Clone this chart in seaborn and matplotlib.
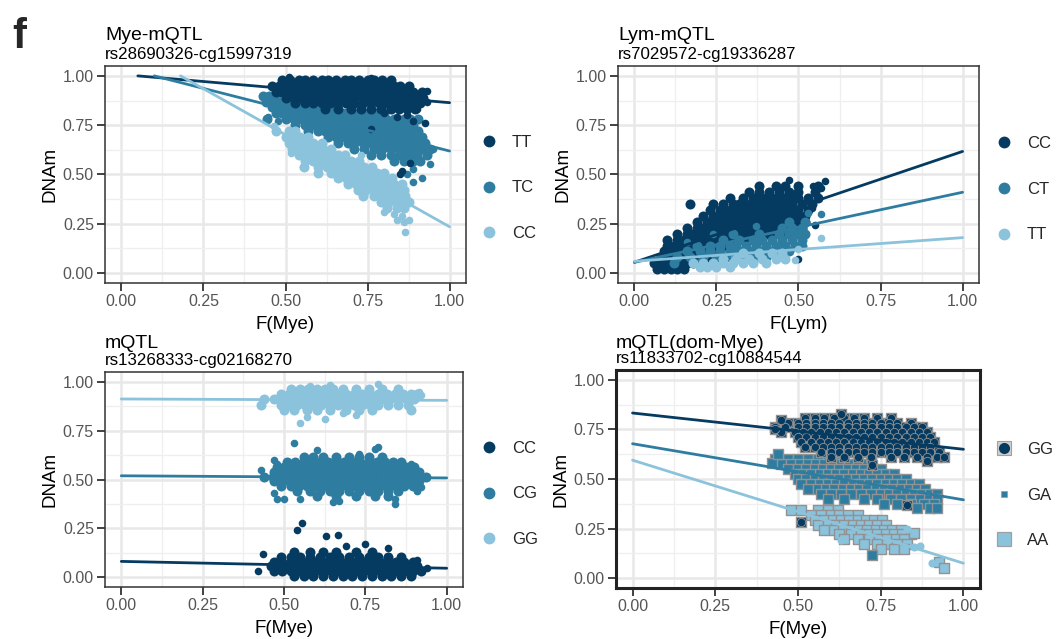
import matplotlib
matplotlib.use("Agg")
import matplotlib.pyplot as plt
from matplotlib.lines import Line2D
import seaborn as sns
import numpy as np

# ---------------- colours ----------------
DARK, MID, LIGHT = "#063b61", "#2e7da1", "#8bc3dc"
GRAYEDGE = "#929292"

# ---------------- panel texts ----------------
TITLES = ["Mye-mQTL", "Lym-mQTL", "mQTL", "mQTL(dom-Mye)"]
SUBTITLES = ["rs28690326-cg15997319", "rs7029572-cg19336287",
             "rs13268333-cg02168270", "rs11833702-cg10884544"]
XLABELS = ["F(Mye)", "F(Lym)", "F(Mye)", "F(Mye)"]
YLABEL = "DNAm"
TICKS = [0.0, 0.25, 0.5, 0.75, 1.0]
TICKLABELS = ["0.00", "0.25", "0.50", "0.75", "1.00"]

# genotype labels per panel (legend order: dark, mid, light)
P1_GENO = ["TT", "TC", "CC"]
P2_GENO = ["CC", "CT", "TT"]
P3_GENO = ["CC", "CG", "GG"]
P4_GENO = ["GG", "GA", "AA"]

# regression lines: start x, start y, end y (end x = 1.0), order dark, mid, light
P1_LINE_X0 = [0.05, 0.10, 0.18]
P1_LINE_Y0 = [1.00, 1.00, 1.00]
P1_LINE_Y1 = [0.864, 0.619, 0.235]
P2_LINE_X0 = [0.0, 0.0, 0.0]
P2_LINE_Y0 = [0.055, 0.055, 0.06]
P2_LINE_Y1 = [0.617, 0.41, 0.18]
P3_LINE_X0 = [0.0, 0.0, 0.0]
P3_LINE_Y0 = [0.081, 0.519, 0.912]
P3_LINE_Y1 = [0.046, 0.508, 0.905]
P4_LINE_X0 = [0.0, 0.0, 0.0]
P4_LINE_Y0 = [0.833, 0.678, 0.595]
P4_LINE_Y1 = [0.65, 0.395, 0.075]

# ---------------- point clouds ----------------
# each row: (DNAm value, [F values]) ; extras: (F, DNAm)
P1_TT_ROWS = [
    (0.980, [0.49, 0.515, 0.54, 0.56, 0.585, 0.61, 0.63, 0.655, 0.68, 0.70, 0.725, 0.75, 0.77, 0.795, 0.82]),
    (0.950, [0.46, 0.48, 0.50, 0.525, 0.55, 0.57, 0.595, 0.62, 0.64, 0.665, 0.69, 0.71, 0.735, 0.76, 0.78, 0.805, 0.83, 0.85, 0.875]),
    (0.920, [0.47, 0.49, 0.515, 0.54, 0.56, 0.585, 0.61, 0.63, 0.655, 0.68, 0.70, 0.725, 0.75, 0.77, 0.795, 0.82, 0.84, 0.865, 0.89, 0.915]),
    (0.890, [0.50, 0.525, 0.55, 0.57, 0.595, 0.62, 0.64, 0.665, 0.69, 0.71, 0.735, 0.76, 0.78, 0.805, 0.83, 0.85, 0.875, 0.90, 0.92]),
    (0.860, [0.53, 0.56, 0.585, 0.61, 0.635, 0.66, 0.685, 0.71, 0.735, 0.76, 0.785, 0.81, 0.835, 0.86, 0.885, 0.91]),
    (0.830, [0.62, 0.66, 0.70, 0.73, 0.76, 0.79, 0.82, 0.845, 0.87, 0.895]),
]
P1_TT_EXTRA = [(0.51, 0.995), (0.76, 0.99), (0.93, 0.925), (0.80, 0.81), (0.89, 0.77), (0.925, 0.76),
               (0.76, 0.73), (0.85, 0.50), (0.855, 0.52), (0.88, 0.56), (0.84, 0.79), (0.87, 0.80),
               (0.90, 0.83), (0.93, 0.87)]

P1_TC_ROWS = [
    (0.900, [0.43, 0.45, 0.47]),
    (0.870, [0.44, 0.46, 0.48, 0.50, 0.52, 0.545]),
    (0.840, [0.46, 0.48, 0.50, 0.525, 0.55, 0.575, 0.60, 0.62, 0.645]),
    (0.810, [0.47, 0.49, 0.515, 0.54, 0.56, 0.585, 0.61, 0.63, 0.655, 0.68, 0.70, 0.725, 0.75, 0.78, 0.80]),
    (0.780, [0.445, 0.50, 0.525, 0.55, 0.57, 0.595, 0.62, 0.64, 0.665, 0.69, 0.71, 0.735, 0.76, 0.78, 0.805, 0.83, 0.86, 0.88, 0.905]),
    (0.750, [0.53, 0.56, 0.585, 0.61, 0.63, 0.655, 0.68, 0.70, 0.725, 0.75, 0.77, 0.795, 0.82, 0.845, 0.87, 0.89]),
    (0.720, [0.57, 0.60, 0.62, 0.645, 0.67, 0.69, 0.715, 0.74, 0.76, 0.785, 0.81, 0.835, 0.86, 0.88, 0.905]),
    (0.690, [0.63, 0.655, 0.68, 0.70, 0.725, 0.75, 0.77, 0.795, 0.82, 0.845, 0.87, 0.89, 0.915]),
    (0.660, [0.66, 0.69, 0.71, 0.735, 0.76, 0.78, 0.805, 0.83, 0.855, 0.88, 0.90, 0.925]),
    (0.630, [0.71, 0.74, 0.77, 0.795, 0.82, 0.845, 0.87, 0.895, 0.92, 0.94]),
    (0.600, [0.76, 0.79, 0.82, 0.85, 0.875, 0.90, 0.93]),
    (0.570, [0.83, 0.86, 0.89, 0.91]),
]
P1_TC_EXTRA = [(0.94, 0.555), (0.89, 0.53), (0.915, 0.48), (0.89, 0.46), (0.87, 0.50), (0.63, 0.94),
               (0.72, 0.97), (0.58, 0.925), (0.80, 0.88), (0.447, 0.79), (0.477, 0.77), (0.93, 0.60),
               (0.95, 0.63), (0.91, 0.57)]

P1_CC_ROWS = [
    (0.720, [0.47, 0.51, 0.53]),
    (0.690, [0.50, 0.52, 0.545, 0.57]),
    (0.660, [0.51, 0.535, 0.56, 0.585, 0.61]),
    (0.630, [0.52, 0.545, 0.57, 0.59, 0.615, 0.64]),
    (0.600, [0.54, 0.565, 0.59, 0.61, 0.635, 0.66, 0.68]),
    (0.570, [0.56, 0.585, 0.61, 0.63, 0.655, 0.68, 0.70, 0.725]),
    (0.540, [0.555, 0.60, 0.625, 0.65, 0.67, 0.695, 0.72, 0.74, 0.765]),
    (0.510, [0.60, 0.64, 0.665, 0.69, 0.71, 0.735, 0.76, 0.78, 0.80]),
    (0.480, [0.66, 0.685, 0.71, 0.73, 0.755, 0.78, 0.80, 0.825]),
    (0.450, [0.69, 0.715, 0.74, 0.76, 0.785, 0.81, 0.83, 0.855]),
    (0.420, [0.72, 0.745, 0.77, 0.79, 0.815, 0.84, 0.86]),
    (0.390, [0.735, 0.77, 0.795, 0.82, 0.845, 0.865]),
    (0.360, [0.79, 0.815, 0.84, 0.86, 0.875]),
    (0.330, [0.81, 0.84, 0.86]),
]
P1_CC_EXTRA = [(0.84, 0.27), (0.855, 0.29), (0.86, 0.26), (0.875, 0.27), (0.865, 0.21), (0.80, 0.31),
               (0.465, 0.745), (0.553, 0.54), (0.517, 0.607), (0.73, 0.60), (0.83, 0.30)]

P2_CC_ROWS = [
    (0.020, [0.07, 0.09, 0.11, 0.13, 0.15]),
    (0.050, [0.06, 0.08, 0.10, 0.12, 0.14, 0.16, 0.18]),
    (0.080, [0.08, 0.10, 0.12, 0.14, 0.16, 0.18, 0.20, 0.22]),
    (0.110, [0.09, 0.11, 0.13, 0.15, 0.17, 0.19, 0.21, 0.23, 0.25]),
    (0.140, [0.10, 0.12, 0.14, 0.16, 0.18, 0.20, 0.22, 0.24, 0.26, 0.28]),
    (0.170, [0.10, 0.13, 0.15, 0.17, 0.19, 0.21, 0.23, 0.25, 0.27, 0.29, 0.31, 0.33, 0.35]),
    (0.200, [0.13, 0.16, 0.18, 0.20, 0.22, 0.24, 0.26, 0.28, 0.30, 0.32, 0.34, 0.36, 0.38, 0.40, 0.42, 0.44, 0.46, 0.48]),
    (0.230, [0.16, 0.19, 0.21, 0.23, 0.25, 0.27, 0.29, 0.31, 0.33, 0.35, 0.37, 0.39, 0.41, 0.43, 0.45, 0.47, 0.49, 0.51]),
    (0.260, [0.19, 0.22, 0.24, 0.26, 0.28, 0.30, 0.32, 0.34, 0.36, 0.38, 0.40, 0.42, 0.44, 0.46, 0.48, 0.50, 0.52]),
    (0.290, [0.21, 0.24, 0.26, 0.28, 0.30, 0.32, 0.34, 0.36, 0.38, 0.40, 0.42, 0.44, 0.46, 0.48, 0.50, 0.52]),
    (0.320, [0.23, 0.26, 0.28, 0.30, 0.32, 0.34, 0.36, 0.38, 0.40, 0.42, 0.44, 0.46, 0.48, 0.50, 0.53]),
    (0.350, [0.17, 0.24, 0.27, 0.30, 0.32, 0.34, 0.36, 0.38, 0.40, 0.42, 0.44, 0.46, 0.48, 0.51, 0.54]),
    (0.380, [0.29, 0.33, 0.36, 0.38, 0.40, 0.42, 0.44, 0.46, 0.48, 0.50, 0.53, 0.56]),
    (0.410, [0.35, 0.38, 0.41, 0.44, 0.47, 0.50, 0.55]),
    (0.440, [0.38, 0.43, 0.46, 0.50, 0.56]),
]
P2_CC_EXTRA = [(0.47, 0.47), (0.58, 0.465), (0.50, 0.07), (0.54, 0.33), (0.55, 0.245), (0.545, 0.44),
               (0.57, 0.43)]

P2_CT_ROWS = [
    (0.050, [0.12, 0.20, 0.24]),
    (0.080, [0.13, 0.17, 0.21, 0.25, 0.28, 0.31, 0.34, 0.37, 0.40, 0.43]),
    (0.110, [0.16, 0.20, 0.23, 0.26, 0.29, 0.32, 0.35, 0.38, 0.41, 0.44, 0.47]),
    (0.140, [0.19, 0.23, 0.26, 0.29, 0.31, 0.34, 0.37, 0.40, 0.43, 0.46, 0.49, 0.51]),
    (0.170, [0.27, 0.32, 0.36, 0.39, 0.42, 0.45, 0.48, 0.51]),
    (0.200, [0.30, 0.38, 0.44, 0.47, 0.50, 0.52]),
    (0.230, [0.45, 0.48, 0.51]),
    (0.260, [0.47, 0.52]),
]
P2_CT_EXTRA = [(0.53, 0.305), (0.57, 0.30), (0.37, 0.24), (0.24, 0.20), (0.16, 0.16)]

P2_TT_ROWS = [
    (0.030, [0.20, 0.22, 0.25, 0.29]),
    (0.050, [0.18, 0.21, 0.24, 0.27, 0.30, 0.33, 0.36, 0.40]),
    (0.070, [0.27, 0.31, 0.35, 0.39, 0.43, 0.46]),
    (0.100, [0.33, 0.38, 0.42, 0.45]),
]
P2_TT_EXTRA = [(0.57, 0.18), (0.50, 0.12), (0.49, 0.066)]

P3_CC_ROWS = [
    (0.130, [0.53, 0.58, 0.62, 0.66, 0.72, 0.77]),
    (0.105, [0.49, 0.52, 0.55, 0.58, 0.61, 0.64, 0.67, 0.70, 0.73, 0.76, 0.79, 0.82, 0.86]),
    (0.080, [0.47, 0.495, 0.52, 0.545, 0.57, 0.595, 0.62, 0.645, 0.67, 0.695, 0.72, 0.745, 0.77, 0.795, 0.82, 0.845, 0.87, 0.895]),
    (0.055, [0.46, 0.485, 0.51, 0.535, 0.56, 0.585, 0.61, 0.635, 0.66, 0.685, 0.71, 0.735, 0.76, 0.785, 0.81, 0.835, 0.86, 0.885, 0.91]),
    (0.030, [0.47, 0.495, 0.52, 0.545, 0.57, 0.595, 0.62, 0.645, 0.67, 0.695, 0.72, 0.745, 0.77, 0.795, 0.82, 0.845, 0.87, 0.895, 0.92]),
    (0.008, [0.53, 0.56, 0.59, 0.62, 0.65, 0.68, 0.71, 0.74, 0.77, 0.80, 0.83, 0.86, 0.89]),
]
P3_CC_EXTRA = [(0.42, 0.03), (0.435, 0.12), (0.54, 0.24), (0.555, 0.28), (0.63, 0.21), (0.665, 0.215),
               (0.69, 0.16), (0.75, 0.17), (0.82, 0.15), (0.91, 0.09), (0.94, 0.045)]

P3_CG_ROWS = [
    (0.615, [0.56, 0.59, 0.62, 0.66, 0.70, 0.73, 0.76, 0.80]),
    (0.590, [0.51, 0.535, 0.56, 0.585, 0.61, 0.635, 0.66, 0.685, 0.71, 0.735, 0.76, 0.785, 0.81, 0.835, 0.86]),
    (0.565, [0.48, 0.50, 0.525, 0.55, 0.575, 0.60, 0.625, 0.65, 0.675, 0.70, 0.725, 0.75, 0.775, 0.80, 0.825, 0.85, 0.875, 0.90]),
    (0.540, [0.47, 0.49, 0.515, 0.54, 0.565, 0.59, 0.615, 0.64, 0.665, 0.69, 0.715, 0.74, 0.765, 0.79, 0.815, 0.84, 0.865, 0.89, 0.915]),
    (0.515, [0.44, 0.465, 0.49, 0.515, 0.54, 0.565, 0.59, 0.615, 0.64, 0.665, 0.69, 0.715, 0.74, 0.765, 0.79, 0.815, 0.84, 0.865, 0.89, 0.915, 0.935]),
    (0.490, [0.47, 0.49, 0.515, 0.54, 0.565, 0.59, 0.615, 0.64, 0.665, 0.69, 0.715, 0.74, 0.765, 0.79, 0.815, 0.84, 0.865, 0.89, 0.915]),
    (0.465, [0.49, 0.52, 0.545, 0.57, 0.595, 0.62, 0.645, 0.67, 0.695, 0.72, 0.745, 0.77, 0.795, 0.82, 0.845, 0.87, 0.895]),
    (0.440, [0.54, 0.58, 0.61, 0.64, 0.67, 0.70, 0.73, 0.76, 0.79, 0.82, 0.85]),
    (0.415, [0.60, 0.66, 0.72, 0.78, 0.82]),
]
P3_CG_EXTRA = [(0.53, 0.685), (0.47, 0.60), (0.48, 0.58), (0.43, 0.55), (0.47, 0.43), (0.48, 0.40),
               (0.50, 0.40), (0.55, 0.40), (0.65, 0.385), (0.67, 0.39), (0.84, 0.375), (0.84, 0.40),
               (0.91, 0.44), (0.92, 0.46), (0.60, 0.65), (0.78, 0.655), (0.79, 0.665), (0.73, 0.63),
               (0.89, 0.58), (0.80, 0.07)]

P3_GG_ROWS = [
    (0.965, [0.52, 0.55, 0.575, 0.60, 0.625, 0.65, 0.68, 0.72, 0.76, 0.80, 0.85]),
    (0.940, [0.49, 0.515, 0.54, 0.565, 0.59, 0.615, 0.64, 0.665, 0.69, 0.715, 0.74, 0.765, 0.79, 0.815, 0.84, 0.865, 0.89, 0.91]),
    (0.910, [0.44, 0.47, 0.50, 0.525, 0.55, 0.575, 0.60, 0.625, 0.65, 0.675, 0.70, 0.725, 0.75, 0.775, 0.80, 0.825, 0.85, 0.875, 0.90]),
    (0.880, [0.43, 0.49, 0.515, 0.54, 0.565, 0.59, 0.615, 0.64, 0.665, 0.69, 0.715, 0.74, 0.765, 0.79, 0.82, 0.85, 0.88]),
    (0.855, [0.50, 0.53, 0.57, 0.60, 0.64, 0.69, 0.73, 0.77, 0.89]),
]
P3_GG_EXTRA = [(0.79, 0.99), (0.55, 0.79), (0.57, 0.82), (0.625, 0.81), (0.72, 0.83), (0.68, 0.84),
               (0.915, 0.95), (0.92, 0.93), (0.64, 0.985), (0.58, 0.98), (0.91, 0.44)]

P4_GG_ROWS = [
    (0.810, [0.52, 0.55, 0.58, 0.61, 0.64, 0.67, 0.70, 0.74, 0.78]),
    (0.785, [0.47, 0.50, 0.525, 0.55, 0.575, 0.60, 0.625, 0.65, 0.675, 0.70, 0.725, 0.75, 0.775, 0.80, 0.84]),
    (0.760, [0.43, 0.46, 0.50, 0.525, 0.55, 0.575, 0.60, 0.625, 0.65, 0.675, 0.70, 0.725, 0.75, 0.775, 0.80, 0.825, 0.85, 0.875]),
    (0.735, [0.45, 0.49, 0.515, 0.54, 0.565, 0.59, 0.615, 0.64, 0.665, 0.69, 0.715, 0.74, 0.765, 0.79, 0.815, 0.84, 0.865, 0.89]),
    (0.710, [0.50, 0.525, 0.55, 0.575, 0.60, 0.625, 0.65, 0.675, 0.70, 0.725, 0.75, 0.775, 0.80, 0.825, 0.85, 0.875, 0.90]),
    (0.685, [0.51, 0.54, 0.565, 0.59, 0.615, 0.64, 0.665, 0.69, 0.715, 0.74, 0.765, 0.79, 0.815, 0.84, 0.865, 0.89, 0.91]),
    (0.660, [0.52, 0.55, 0.575, 0.60, 0.625, 0.65, 0.675, 0.70, 0.725, 0.75, 0.775, 0.80, 0.825, 0.85, 0.875, 0.90]),
    (0.635, [0.57, 0.60, 0.625, 0.65, 0.675, 0.70, 0.725, 0.75, 0.775, 0.80, 0.825, 0.85, 0.875, 0.90, 0.925]),
    (0.610, [0.60, 0.64, 0.68, 0.72, 0.78, 0.82, 0.86, 0.89, 0.92, 0.94]),
]
P4_GG_EXTRA = [(0.45, 0.80), (0.43, 0.75), (0.725, 0.57), (0.83, 0.37), (0.51, 0.285), (0.63, 0.83),
               (0.89, 0.59)]

P4_GA_ROWS = [
    (0.600, [0.43, 0.47, 0.50, 0.53, 0.56, 0.59, 0.62]),
    (0.575, [0.45, 0.48, 0.505, 0.53, 0.555, 0.58, 0.605, 0.63, 0.655, 0.68, 0.71]),
    (0.550, [0.47, 0.50, 0.525, 0.55, 0.575, 0.60, 0.625, 0.65, 0.675, 0.70, 0.725, 0.75]),
    (0.525, [0.49, 0.515, 0.54, 0.565, 0.59, 0.615, 0.64, 0.665, 0.69, 0.715, 0.74, 0.765, 0.79]),
    (0.500, [0.50, 0.525, 0.55, 0.575, 0.60, 0.625, 0.65, 0.675, 0.70, 0.725, 0.75, 0.775, 0.80, 0.825]),
    (0.475, [0.51, 0.54, 0.565, 0.59, 0.615, 0.64, 0.665, 0.69, 0.715, 0.74, 0.765, 0.79, 0.815, 0.84, 0.865]),
    (0.450, [0.53, 0.56, 0.585, 0.61, 0.635, 0.66, 0.685, 0.71, 0.735, 0.76, 0.785, 0.81, 0.835, 0.86, 0.885]),
    (0.425, [0.57, 0.60, 0.63, 0.66, 0.69, 0.72, 0.75, 0.775, 0.80, 0.825, 0.85, 0.875, 0.90, 0.92]),
    (0.400, [0.59, 0.64, 0.70, 0.74, 0.78, 0.81, 0.84, 0.87, 0.895, 0.92]),
    (0.375, [0.76, 0.80, 0.84, 0.88, 0.91]),
    (0.355, [0.86, 0.90, 0.92]),
]
P4_GA_EXTRA = [(0.42, 0.58), (0.44, 0.625), (0.725, 0.117)]

P4_AA_ROWS = [
    (0.345, [0.48, 0.51, 0.56, 0.59, 0.62]),
    (0.320, [0.54, 0.57, 0.60, 0.625, 0.65, 0.68]),
    (0.295, [0.55, 0.58, 0.605, 0.63, 0.655, 0.68, 0.705, 0.73, 0.755]),
    (0.270, [0.56, 0.59, 0.615, 0.64, 0.665, 0.69, 0.715, 0.74, 0.765]),
    (0.245, [0.58, 0.61, 0.635, 0.66, 0.685, 0.71, 0.735, 0.76, 0.785, 0.81]),
    (0.220, [0.625, 0.66, 0.69, 0.715, 0.74, 0.765, 0.79, 0.815, 0.84]),
    (0.195, [0.64, 0.68, 0.715, 0.745, 0.77, 0.795, 0.82]),
    (0.170, [0.70, 0.74, 0.77, 0.80, 0.83]),
    (0.145, [0.75, 0.79, 0.82]),
]
P4_AA_EXTRA = [(0.925, 0.08), (0.94, 0.05), (0.85, 0.23)]
P4_AA_CIRCLES = [(0.905, 0.075), (0.83, 0.25), (0.85, 0.155), (0.87, 0.16), (0.63, 0.19)]


def expand(rows, extra):
    xs, ys = [], []
    for yv, xlist in rows:
        xs.extend(xlist)
        ys.extend([yv] * len(xlist))
    for xv, yv in extra:
        xs.append(xv)
        ys.append(yv)
    return np.array(xs, dtype=float), np.array(ys, dtype=float)


sns.set_style("white")
plt.rcParams["font.family"] = ["Liberation Sans", "DejaVu Sans"]

W, H = 1056, 639
fig = plt.figure(figsize=(W / 100, H / 100), dpi=100)


def axes_px(left, top, right, bottom):
    return fig.add_axes([left / W, 1 - bottom / H, (right - left) / W, (bottom - top) / H])


ax1 = axes_px(105, 66, 466, 283)
ax2 = axes_px(618, 66, 979, 283)
ax3 = axes_px(105, 372, 463, 587)
ax4 = axes_px(616, 370, 980, 588)
AXES = [ax1, ax2, ax3, ax4]

CORE_S = 52   # dense cloud core
EXTRA_S = 30  # isolated points
SQ_S = 56     # squares in panel 4


def scatter(ax, xs, ys, color, s, marker="o", edge=None, lw=0):
    if len(xs) == 0:
        return
    sns.scatterplot(x=xs, y=ys, ax=ax, color=color, s=s, marker=marker,
                    edgecolor=edge if edge else color, linewidth=lw, legend=False, zorder=3)


def cloud(ax, rows, extra, color):
    xs, ys = expand(rows, [])
    scatter(ax, xs, ys, color, CORE_S)
    xe, ye = expand([], extra)
    scatter(ax, xe, ye, color, EXTRA_S)


def cloud_sq(ax, rows, extra, color, circle_s=None):
    xs, ys = expand(rows, extra)
    scatter(ax, xs, ys, color, SQ_S, marker="s", edge=GRAYEDGE, lw=1.0)
    if circle_s:
        scatter(ax, xs, ys, color, circle_s, edge=GRAYEDGE, lw=0.6)


def lines(ax, x0s, y0s, y1s, colors):
    for x0, y0, y1, c in zip(x0s, y0s, y1s, colors):
        sns.lineplot(x=[x0, 1.0], y=[y0, y1], ax=ax, color=c, lw=2.0, zorder=5,
                     estimator=None, sort=False, legend=False)


COLS = [DARK, MID, LIGHT]

# Panel 1
cloud(ax1, P1_TC_ROWS, P1_TC_EXTRA, MID)
cloud(ax1, P1_CC_ROWS, P1_CC_EXTRA, LIGHT)
cloud(ax1, P1_TT_ROWS, P1_TT_EXTRA, DARK)
lines(ax1, P1_LINE_X0, P1_LINE_Y0, P1_LINE_Y1, COLS)

# Panel 2
cloud(ax2, P2_CC_ROWS, P2_CC_EXTRA, DARK)
cloud(ax2, P2_CT_ROWS, P2_CT_EXTRA, MID)
cloud(ax2, P2_TT_ROWS, P2_TT_EXTRA, LIGHT)
lines(ax2, P2_LINE_X0, P2_LINE_Y0, P2_LINE_Y1, COLS)

# Panel 3
cloud(ax3, P3_GG_ROWS, P3_GG_EXTRA, LIGHT)
cloud(ax3, P3_CG_ROWS, P3_CG_EXTRA, MID)
cloud(ax3, P3_CC_ROWS, P3_CC_EXTRA, DARK)
lines(ax3, P3_LINE_X0, P3_LINE_Y0, P3_LINE_Y1, COLS)

# Panel 4
cloud_sq(ax4, P4_AA_ROWS, P4_AA_EXTRA, LIGHT)
xc, yc = expand([], P4_AA_CIRCLES)
scatter(ax4, xc, yc, LIGHT, 34)
cloud_sq(ax4, P4_GA_ROWS, P4_GA_EXTRA, MID)
cloud_sq(ax4, P4_GG_ROWS, P4_GG_EXTRA, DARK, circle_s=36)
lines(ax4, P4_LINE_X0, P4_LINE_Y0, P4_LINE_Y1, COLS)

# axes styling
for i, ax in enumerate(AXES):
    ax.set_xlim(-0.05, 1.05)
    ax.set_ylim(-0.05, 1.05)
    ax.set_xticks(TICKS)
    ax.set_xticklabels(TICKLABELS)
    ax.set_yticks(TICKS)
    ax.set_yticklabels(TICKLABELS)
    ax.set_xticks([0.125, 0.375, 0.625, 0.875], minor=True)
    ax.set_yticks([0.125, 0.375, 0.625, 0.875], minor=True)
    ax.grid(which="major", color="#e8e8e8", lw=1.8, zorder=0)
    ax.grid(which="minor", color="#efefef", lw=0.9, zorder=0)
    ax.set_axisbelow(True)
    ax.tick_params(which="major", length=5.5, width=1.3, color="#333333",
                   labelcolor="#555555", labelsize=11.5, pad=2.5, bottom=True, left=True)
    ax.tick_params(which="minor", length=0)
    ax.set_xlabel(XLABELS[i], fontsize=13.5, color="black", labelpad=5)
    ax.set_ylabel(YLABEL, fontsize=13.5, color="black", labelpad=3)
    for sp in ax.spines.values():
        sp.set_visible(True)
        sp.set_color("#333333" if i < 3 else "#222222")
        sp.set_linewidth(1.1 if i < 3 else 2.2)
        sp.set_zorder(6)

# titles / subtitles
TITLE_POS = [(105, 40.5, 59.5), (618, 40.5, 59.5), (105, 348.5, 364.5), (616, 348, 363.5)]
for (tx, ty, sy), t, st in zip(TITLE_POS, TITLES, SUBTITLES):
    fig.text(tx / W, 1 - ty / H, t, fontsize=14, color="black", va="baseline", ha="left")
    fig.text(tx / W, 1 - sy / H, st, fontsize=12.2, color="black", va="baseline", ha="left")

fig.text(12 / W, 1 - 48 / H, "f", fontsize=30, fontweight="bold", va="baseline", ha="left")


# legends
def dot(c, ms=8.5):
    return Line2D([], [], ls="", marker="o", ms=ms, mfc=c, mec=c, mew=0)


LEG_POS = [(ax1, 481, 188, P1_GENO), (ax2, 996, 189, P2_GENO), (ax3, 481, 494, P3_GENO)]
for ax, lx, ly, geno in LEG_POS:
    ax.legend([dot(DARK), dot(MID), dot(LIGHT)], geno, loc="center left",
              bbox_to_anchor=(lx / W, 1 - ly / H), bbox_transform=fig.transFigure,
              frameon=False, fontsize=12, handlelength=1.0, handletextpad=0.85,
              labelspacing=1.85, borderpad=0, borderaxespad=0)

gg_h = (Line2D([], [], ls="", marker="s", ms=9.5, mfc="#cfcfcf", mec="#a0a0a0", mew=0.8),
        Line2D([], [], ls="", marker="o", ms=8, mfc=DARK, mec=DARK, mew=0))
ga_h = Line2D([], [], ls="", marker="s", ms=4, mfc=MID, mec="#a0a0a0", mew=0.6)
aa_h = Line2D([], [], ls="", marker="s", ms=9.5, mfc=LIGHT, mec="#a0a0a0", mew=0.9)
ax4.legend([gg_h, ga_h, aa_h], P4_GENO, loc="center left",
           bbox_to_anchor=(996 / W, 1 - 495 / H), bbox_transform=fig.transFigure,
           frameon=False, fontsize=12, handlelength=1.0, handletextpad=0.85,
           labelspacing=1.85, borderpad=0, borderaxespad=0)

fig.savefig("out.png", dpi=100)
